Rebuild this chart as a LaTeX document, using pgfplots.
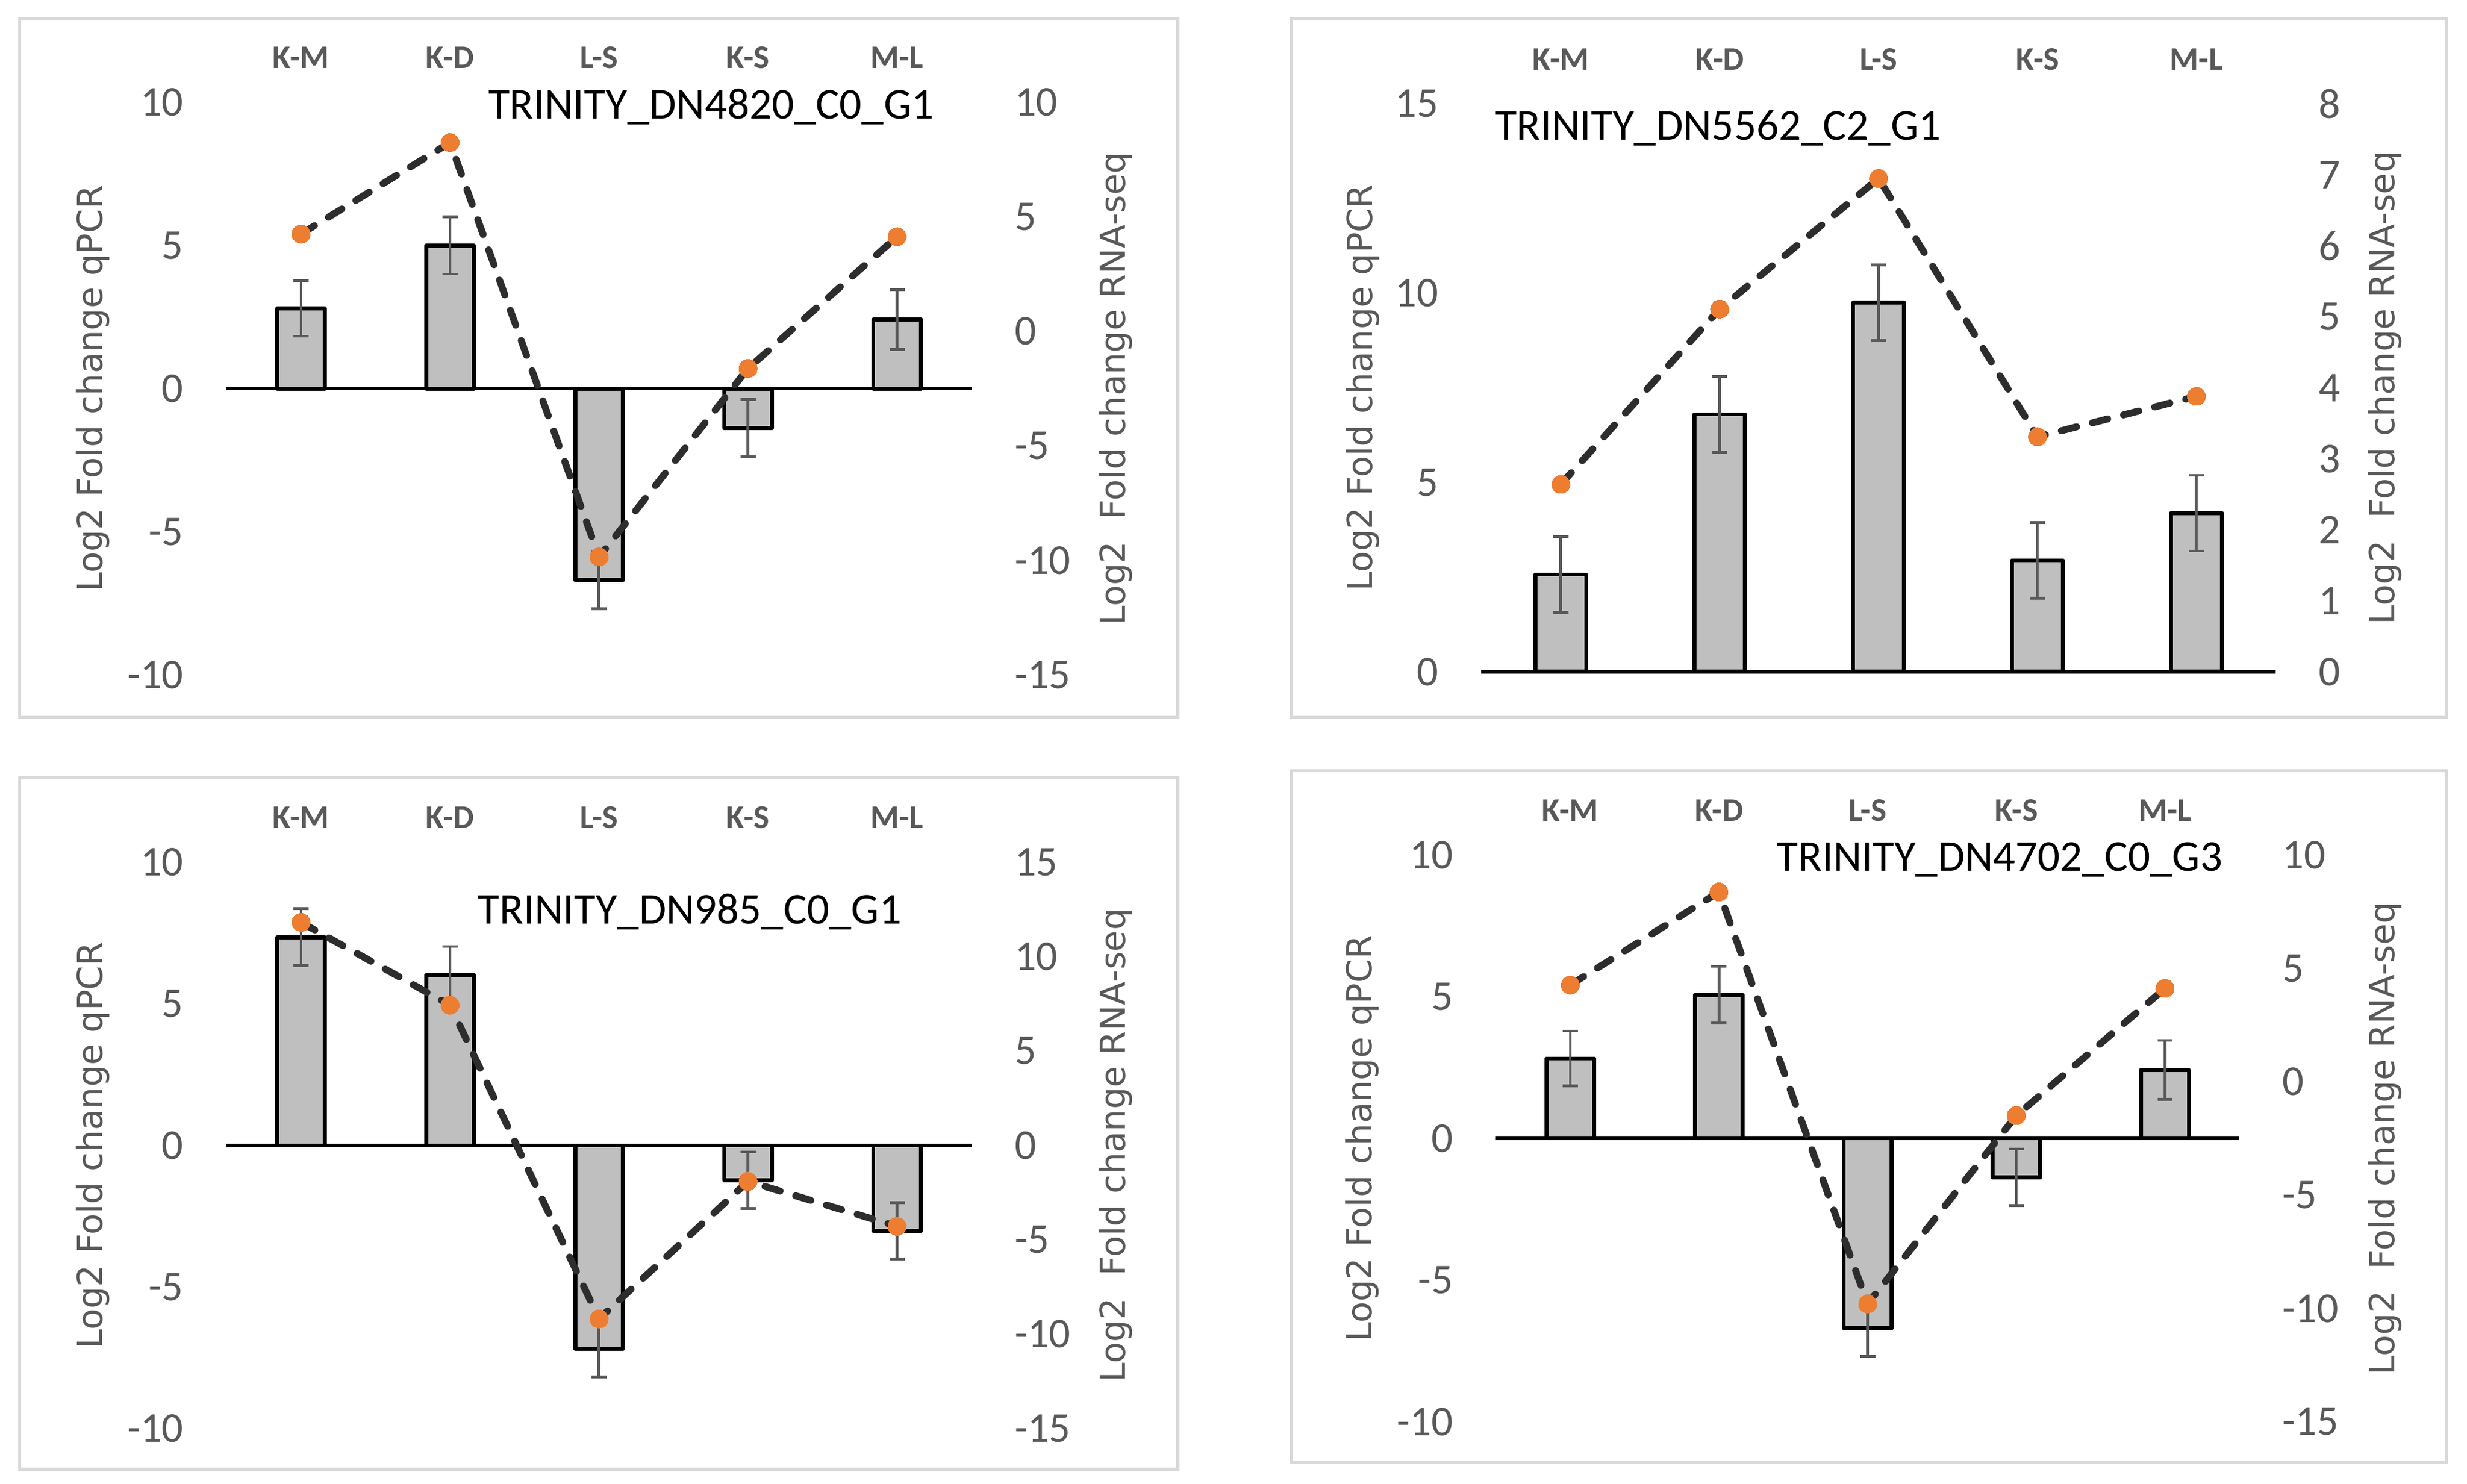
\documentclass[border=0pt]{standalone}
\usepackage{fontspec}
\setmainfont{Carlito}
\newfontfamily\labelfont{DejaVu Sans}
\usepackage{pgfplots}
\usepackage{pgfplotstable}
\pgfplotsset{compat=1.18}

\definecolor{barfill}{HTML}{BFBFBF}
\definecolor{txtgray}{HTML}{595959}
\definecolor{dotorange}{HTML}{ED7D31}
\definecolor{linegray}{HTML}{2D2D2D}
\definecolor{framegray}{HTML}{D9D9D9}

% x: category, q: qPCR log2 FC, qe: error, r: RNA-seq log2 FC
\pgfplotstableread{
x q qe r
0 2.80 0.97 4.25
1 5.00 1.00 8.24
2 -6.69 1.00 -9.85
3 -1.38 1.00 -1.62
4 2.41 1.04 4.13
}\tabA
\pgfplotstableread{
x q qe r
0 2.57 1.00 2.64
1 6.80 1.00 5.11
2 9.75 1.00 6.95
3 2.94 1.00 3.31
4 4.19 1.00 3.88
}\tabB
\pgfplotstableread{
x q qe r
0 7.35 1.01 11.81
1 6.01 1.01 7.43
2 -7.19 0.98 -9.19
3 -1.23 1.00 -1.91
4 -3.02 1.00 -4.29
}\tabC
\pgfplotstableread{
x q qe r
0 2.82 0.97 4.27
1 5.07 1.00 8.37
2 -6.70 1.00 -9.80
3 -1.37 1.00 -1.49
4 2.42 1.04 4.12
}\tabD

\pgfplotsset{
  common/.style={
    scale only axis, anchor=south west, clip=false,
    xmin=-0.5, xmax=4.5,
    major tick length=0pt,
    axis line style={draw=none},
    /pgf/number format/assume math mode=true,
    yticklabel style={font=\fontsize{13.5}{16}\selectfont, text=txtgray, inner sep=0pt},
    yticklabel shift=13.5pt,
  },
  leftax/.style={
    common,
    axis x line*=top, axis y line*=left, axis line style={draw=none},
    xtick=data, xticklabels={K-M,K-D,L-S,K-S,M-L},
    xticklabel style={font=\bfseries\fontsize{10.5}{12}\selectfont, text=txtgray, inner sep=0pt},
    xticklabel shift=10.5pt,
    extra y ticks={0}, extra y tick labels={},
    extra y tick style={grid=major, major grid style={black, line width=1.1pt}},
    ybar, bar width=0.32,
    ylabel={Log2 Fold change qPCR},
    every axis title shift=0pt,
  },
  rightax/.style={
    common,
    axis x line=none, axis y line*=right, axis line style={draw=none},
    ylabel={Log2\ \ Fold change RNA-seq},
  },
  lefty/.style={every axis y label/.style={at={(rel axis cs:0,0.5)}, xshift=-#1, rotate=90, anchor=center,
    font=\labelfont\fontsize{11}{13}\selectfont, text=txtgray}},
  righty/.style={every axis y label/.style={at={(rel axis cs:1,0.5)}, xshift=#1, rotate=90, anchor=center,
    font=\labelfont\fontsize{11}{13}\selectfont, text=txtgray}},
  gtitle/.style 2 args={title={#1}, title style={at={(rel axis cs:#2)}, anchor=west, inner sep=0pt,
    font=\fontsize{14}{16}\selectfont, text=black}},
  qbars/.style={fill=barfill, draw=black, line width=1.25pt, line join=round,
    error bars/.cd, y dir=both, y explicit,
    error bar style={txtgray, line width=0.9pt},
    error mark options={rotate=90, mark size=2.4pt, txtgray, line width=0.9pt}},
  rline/.style={linegray, line width=2.2pt, line cap=round, dash pattern=on 5pt off 5.2pt,
    mark=*, mark size=2.9pt, mark options={solid, fill=dotorange, draw=dotorange, line width=0pt}},
}

\begin{document}
\begin{tikzpicture}
\useasboundingbox (0,0) rectangle (784pt,471.5pt);
\draw[framegray, line width=1pt] (6.25pt,243.5pt) rectangle (374.25pt,465.5pt);
\draw[framegray, line width=1pt] (410.4pt,243.5pt) rectangle (777.5pt,465.5pt);
\draw[framegray, line width=1pt] (6.25pt,4.5pt) rectangle (374.25pt,224.5pt);
\draw[framegray, line width=1pt] (410.4pt,6.75pt) rectangle (777.5pt,226.5pt);

% top left
\begin{axis}[leftax, lefty=42.5pt, at={(72pt,257pt)}, width=236.75pt, height=182pt,
  ymin=-10, ymax=10, ytick={-10,-5,0,5,10},
  gtitle={TRINITY\_DN4820\_C0\_G1}{0.3506,0.992}]
\addplot[qbars] table[x=x, y=q, y error=qe] {\tabA};
\end{axis}
\begin{axis}[rightax, righty=45.75pt, at={(72pt,257pt)}, width=236.75pt, height=182pt,
  ymin=-15, ymax=10, ytick={-15,-10,-5,0,5,10}]
\addplot[rline] table[x=x, y=r] {\tabA};
\end{axis}

% top right
\begin{axis}[leftax, lefty=37.75pt, at={(470.75pt,258pt)}, width=252.5pt, height=180.5pt,
  ymin=0, ymax=15, ytick={0,5,10,15},
  gtitle={TRINITY\_DN5562\_C2\_G1}{0.0168,0.957}]
\addplot[qbars] table[x=x, y=q, y error=qe] {\tabB};
\end{axis}
\begin{axis}[rightax, righty=34.75pt, at={(470.75pt,258pt)}, width=252.5pt, height=180.5pt,
  ymin=0, ymax=8, ytick={0,1,...,8}]
\addplot[rline] table[x=x, y=r] {\tabB};
\end{axis}

% bottom left
\begin{axis}[leftax, lefty=42.5pt, at={(72pt,17.5pt)}, width=236.75pt, height=180pt,
  ymin=-10, ymax=10, ytick={-10,-5,0,5,10},
  gtitle={TRINITY\_DN985\_C0\_G1}{0.3369,0.912}]
\addplot[qbars] table[x=x, y=q, y error=qe] {\tabC};
\end{axis}
\begin{axis}[rightax, righty=45.75pt, at={(72pt,17.5pt)}, width=236.75pt, height=180pt,
  ymin=-15, ymax=15, ytick={-15,-10,-5,0,5,10,15}]
\addplot[rline] table[x=x, y=r] {\tabC};
\end{axis}

% bottom right
\begin{axis}[leftax, lefty=42.5pt, at={(475.4pt,19.65pt)}, width=236.25pt, height=180.1pt,
  ymin=-10, ymax=10, ytick={-10,-5,0,5,10},
  gtitle={TRINITY\_DN4702\_C0\_G3}{0.377,0.992}]
\addplot[qbars] table[x=x, y=q, y error=qe] {\tabD};
\end{axis}
\begin{axis}[rightax, righty=46.25pt, at={(475.4pt,19.65pt)}, width=236.25pt, height=180.1pt,
  ymin=-15, ymax=10, ytick={-15,-10,-5,0,5,10}]
\addplot[rline] table[x=x, y=r] {\tabD};
\end{axis}
\end{tikzpicture}
\end{document}
